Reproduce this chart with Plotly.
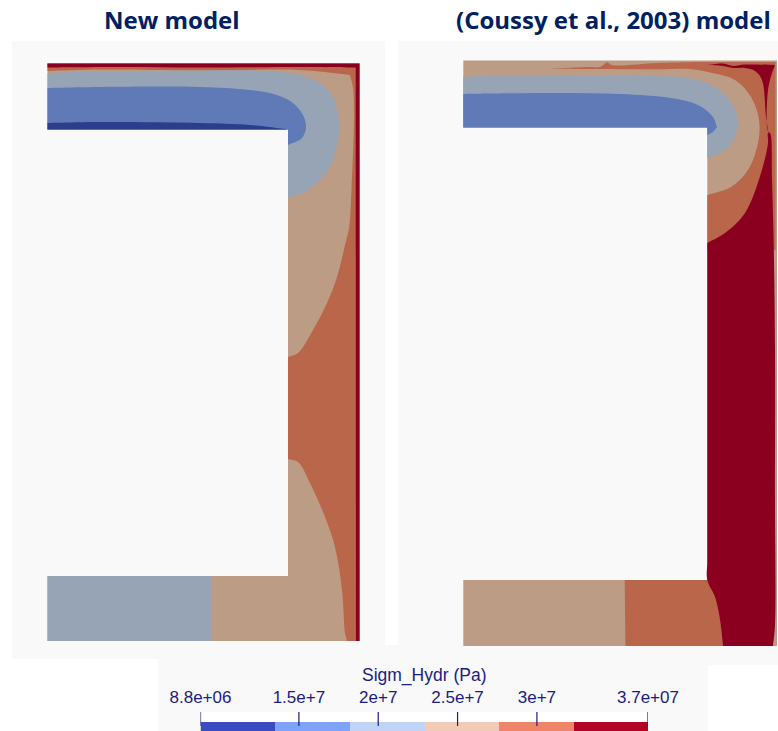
import math
import plotly.graph_objects as go

W, H = 778, 731
BG = "#F9F9F9"
BLUE, DARK, SLATE, TAN, TERRA, RED = "#607AB8", "#2A3E8C", "#97A4B6", "#BC9C84", "#B9664A", "#8B001E"

panel_titles = ["New model", "(Coussy et al., 2003) model"]

# background sheets (x0, y0, x1, y1)
sheet_rects = [(12, 41, 385, 659), (398, 41, 778, 665), (12, 645, 778, 659), (158, 659, 708, 731)]

# ---- left panel regions, image pixel coordinates ----
L_body_x = [47.5, 359.5, 359.5, 47.5, 47.5, 288, 288, 47.5]
L_body_y = [63.5, 63.5, 641, 641, 576, 576, 129.5, 129.5]
L_foot_x = [47.5, 211, 211, 47.5]
L_foot_y = [576, 576, 641, 641]
L_terra_x = [47.5, 359.5, 359.5, 347, 345, 342, 335, 325, 310, 298, 288, 288, 298, 313, 327, 337, 345, 349, 351.5, 354, 353, 350, 300, 200, 100, 47.5]
L_terra_y = [63.5, 63.5, 641, 641, 633, 590, 547, 517, 483, 462, 459, 357, 353, 330, 303, 277, 245, 228, 190, 115, 88, 75, 70, 70.5, 69.5, 71]
L_red_x = [47.5, 359.5, 359.5, 356, 355.7, 300, 200, 120, 47.5]
L_red_y = [63.5, 63.5, 641, 641, 67.5, 67, 67.5, 67, 67.5]
L_slate_x = [47.5, 90, 133, 200, 267, 300, 320, 333, 339, 338, 330, 317, 303, 288, 288, 47.5]
L_slate_y = [73, 71.5, 71, 70.5, 71, 75, 83, 97, 120, 140, 167, 183, 193, 198, 129.5, 129.5]
L_blue_x = [47.5, 100, 200, 250, 277, 293, 303, 306, 302, 288, 288, 47.5]
L_blue_y = [88, 87, 87, 90, 95, 103, 115, 127, 138, 145, 129.5, 129.5]
L_dark_x = [47.5, 100, 200, 250, 288, 47.5]
L_dark_y = [123, 122, 123, 125, 129.5, 129.5]

# ---- right panel regions ----
R_body_x = [463.3, 777, 777, 463.3, 463.3, 707.3, 707.3, 463.3]
R_body_y = [60.5, 60.5, 646, 646, 580, 580, 127.5, 127.5]
R_terra_x = [551, 590, 600, 607, 612, 657, 700, 775.5, 775.5, 707.3, 707.3, 731, 748, 758, 759, 751, 735, 708, 690, 657, 600]
R_terra_y = [68.7, 67, 67, 62, 65, 63, 62, 62, 250, 250, 195, 187, 170, 143, 120, 97, 80, 72, 69, 69.3, 69]
R_foot_x = [624.7, 707.3, 707.3, 715, 720, 723, 625.5]
R_foot_y = [580, 580, 580, 597, 620, 646, 646]
R_red_x = [707.3, 725, 745, 761, 768, 768, 770, 772, 774, 775, 775, 775, 773, 723, 720, 715, 707.3, 707.3, 707.3, 707.3]
R_red_y = [243, 233, 213, 173, 143, 133, 133, 180, 260, 350, 500, 625, 646, 646, 620, 597, 580, 560, 400, 262]
R_spike_x = [707, 723, 733, 745, 775, 772, 768, 767, 768.5, 766, 762, 755, 745, 733, 723]
R_spike_y = [65, 63.5, 66, 64.5, 65, 73, 90, 127, 133, 117, 80, 71, 68, 68, 66]
R_slate_x = [463.3, 521, 590, 655, 688, 715, 731, 738, 735, 725, 707.3, 707.3, 463.3]
R_slate_y = [76.7, 75, 75.5, 76, 78, 87, 102, 120, 137, 150, 158, 127.5, 127.5]
R_blue_x = [463.3, 555, 621, 671, 698, 713, 717, 713, 707.3, 707.3, 463.3]
R_blue_y = [94, 93, 94, 98, 105, 117, 127, 132, 135, 127.5, 127.5]

regions = [
    (L_body_x, L_body_y, TAN), (L_foot_x, L_foot_y, SLATE), (L_terra_x, L_terra_y, TERRA),
    (L_red_x, L_red_y, RED), (L_slate_x, L_slate_y, SLATE), (L_blue_x, L_blue_y, BLUE),
    (L_dark_x, L_dark_y, DARK),
    (R_body_x, R_body_y, TAN), (R_terra_x, R_terra_y, TERRA), (R_foot_x, R_foot_y, TERRA),
    (R_red_x, R_red_y, RED), (R_spike_x, R_spike_y, RED),
    (R_slate_x, R_slate_y, SLATE), (R_blue_x, R_blue_y, BLUE),
]

# ---- colour bar ----
bar_edges = [8.8e6, 1.35e7, 1.82e7, 2.29e7, 2.76e7, 3.23e7, 3.7e7]
bar_colors = ["#3B4CC0", "#7FA3F8", "#C0D4F5", "#F2CBB7", "#EE8468", "#B40426"]
tick_vals = [8.8e6, 1.5e7, 2e7, 2.5e7, 3e7, 3.7e7]
tick_text = ["8.8e+06", "1.5e+7", "2e+7", "2.5e+7", "3e+7", "3.7e+07"]
bar_title = "Sigm_Hydr (Pa)"
NAVY = "#1B1B82"


def keep_corners(xs, ys):
    """Add a close neighbour either side of each sharp vertex so the spline stays tight there."""
    out_x, out_y = [], []
    n = len(xs)
    for i in range(n):
        px, py = xs[i - 1], ys[i - 1]
        cx, cy = xs[i], ys[i]
        nx, ny = xs[(i + 1) % n], ys[(i + 1) % n]
        a1 = math.atan2(cy - py, cx - px)
        a2 = math.atan2(ny - cy, nx - cx)
        turn = abs((a2 - a1 + math.pi) % (2 * math.pi) - math.pi)
        l1, l2 = math.hypot(cx - px, cy - py), math.hypot(nx - cx, ny - cy)
        if turn > math.radians(55) and l1 > 2 and l2 > 2:
            out_x += [cx - math.cos(a1), cx, cx + math.cos(a2)]
            out_y += [cy - math.sin(a1), cy, cy + math.sin(a2)]
        else:
            out_x.append(cx)
            out_y.append(cy)
    return out_x + out_x[:1], out_y + out_y[:1]


fig = go.Figure()
for xs, ys, col in regions:
    sx, sy = keep_corners(xs, ys)
    fig.add_trace(go.Scatter(x=sx, y=sy, mode="lines", fill="toself", fillcolor=col,
                             line=dict(width=0, shape="spline", smoothing=1, simplify=False),
                             hoverinfo="skip", showlegend=False))

n = len(bar_colors)
scale = []
for i, c in enumerate(bar_colors):
    scale += [[i / n, c], [(i + 1) / n, c]]
fig.add_trace(go.Heatmap(x=bar_edges, y=[0, 9], z=[list(range(n))], zmin=-0.5, zmax=n - 0.5,
                         colorscale=scale, showscale=False, hoverinfo="skip",
                         xaxis="x2", yaxis="y2"))
tx, ty = [], []
for v in tick_vals:
    tx += [v, v, None]
    ty += [5, 19, None]
fig.add_trace(go.Scatter(x=tx, y=ty, mode="lines", line=dict(color=NAVY, width=1.2),
                         hoverinfo="skip", showlegend=False, xaxis="x2", yaxis="y2", cliponaxis=False))

shapes = [dict(type="rect", x0=a, y0=b, x1=c, y1=d, fillcolor=BG, line=dict(width=0), layer="below", xref="x", yref="y")
          for a, b, c, d in sheet_rects]

fig.update_layout(
    width=W, height=H, autosize=False, margin=dict(l=0, r=0, t=0, b=0),
    paper_bgcolor="white", plot_bgcolor="white", showlegend=False, shapes=shapes,
    xaxis=dict(range=[0, W], domain=[0, 1], visible=False, fixedrange=True, automargin=False),
    yaxis=dict(range=[H, 0], domain=[0, 1], visible=False, fixedrange=True, automargin=False),
    xaxis2=dict(range=[8.8e6, 3.7e7], domain=[200.5 / W, 648 / W], anchor="y2", side="top",
                tickmode="array", tickvals=tick_vals, ticktext=tick_text, ticks="", showgrid=False,
                zeroline=False, showline=False, ticklabelstandoff=5, automargin=False,
                tickfont=dict(family="Liberation Sans", size=17, color=NAVY), fixedrange=True),
    yaxis2=dict(range=[0, 19], domain=[0, 19 / H], anchor="x2", visible=False, fixedrange=True, automargin=False),
    annotations=[
        dict(x=171.5, y=19.5, text=f"<b>{panel_titles[0]}</b>", showarrow=False, xref="x", yref="y",
             font=dict(family="Open Sans", size=24, color="#002060")),
        dict(x=613, y=19.5, text=f"<b>{panel_titles[1]}</b>", showarrow=False, xref="x", yref="y",
             font=dict(family="Open Sans", size=24, color="#002060")),
        dict(x=424, y=675, text=bar_title, showarrow=False, xref="x", yref="y",
             font=dict(family="Liberation Sans", size=17.5, color=NAVY)),
    ],
)
fig.write_html("out.html", post_script="document.body.style.margin='0';document.body.style.overflow='hidden';",
               config={"displayModeBar": False})
